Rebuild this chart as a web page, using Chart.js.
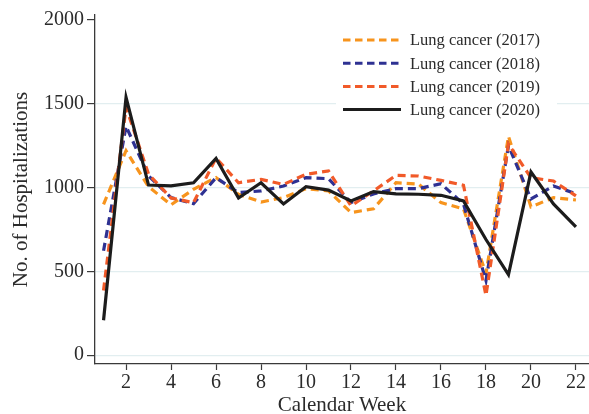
<!DOCTYPE html>
<html>
<head>
<meta charset="utf-8">
<script src="https://cdn.jsdelivr.net/npm/chart.js@4/dist/chart.umd.min.js"></script>
<style>
  html, body { margin: 0; padding: 0; background: #fff; }
  canvas { display: block; }
</style>
</head>
<body>
<canvas id="c" width="589" height="414"></canvas>
<script>
const weeks = [1,2,3,4,5,6,7,8,9,10,11,12,13,14,15,16,17,18,19,20,21,22];
const lung2017 = [900,1220,1005,897,990,1060,960,914,940,994,980,851,873,1029,1021,910,873,487,1306,885,940,926];
const lung2018 = [623,1366,1070,940,904,1059,970,980,1009,1059,1053,910,962,994,994,1023,902,445,1250,932,1009,964];
const lung2019 = [386,1480,1080,938,910,1176,1029,1049,1019,1079,1099,891,980,1073,1069,1043,1014,356,1259,1059,1039,950];
const lung2020 = [208,1538,1015,1010,1029,1174,938,1029,902,1005,985,920,976,962,960,954,920,690,481,1093,902,766];
const seriesLabels = ["Lung cancer (2017)","Lung cancer (2018)","Lung cancer (2019)","Lung cancer (2020)"];
const xTickValues = [2,4,6,8,10,12,14,16,18,20,22];
const yTickValues = [0,500,1000,1500,2000];

const SERIF = '"Liberation Serif", "Times New Roman", serif';
const TXT = '#2b2b2b';
const AXIS = '#3a3a3a';

const colors = ['#F7941D', '#2E3192', '#F15A29', '#1c1c1c'];
const dashes = [[8,5],[8,5],[8,5],[]];
const series = [lung2017, lung2018, lung2019, lung2020];

const datasets = series.map((vals, i) => ({
  label: seriesLabels[i],
  data: weeks.map((w, j) => ({x: w, y: vals[j]})),
  borderColor: colors[i],
  backgroundColor: colors[i],
  borderWidth: 3.2,
  borderDash: dashes[i],
  pointRadius: 0,
  tension: 0,
  fill: false,
  order: 4 - i
}));

const legendInside = {
  id: 'legendInside',
  afterDatasetsDraw(chart) {
    const ctx = chart.ctx;
    ctx.save();
    ctx.fillStyle = '#ffffff';
    ctx.fillRect(336, 24, 221, 98);
    const ds = chart.data.datasets;
    ds.forEach((d, i) => {
      const y = 40 + i * 23.2;
      ctx.beginPath();
      ctx.strokeStyle = d.borderColor;
      ctx.lineWidth = 3;
      ctx.setLineDash(d.borderDash && d.borderDash.length ? [7.5, 4.5] : []);
      ctx.moveTo(343, y);
      ctx.lineTo(401, y);
      ctx.stroke();
      ctx.setLineDash([]);
      ctx.fillStyle = TXT;
      ctx.font = '16.5px ' + SERIF;
      ctx.textBaseline = 'middle';
      ctx.textAlign = 'left';
      ctx.fillText(d.label, 410, y + 1);
    });
    ctx.restore();
  }
};

new Chart(document.getElementById('c'), {
  type: 'line',
  data: { datasets },
  plugins: [legendInside],
  options: {
    responsive: false,
    animation: false,
    devicePixelRatio: 1,
    layout: { padding: { top: 13, right: 0, bottom: 0, left: 0 } },
    plugins: { legend: { display: false }, tooltip: { enabled: false } },
    scales: {
      x: {
        type: 'linear',
        min: 0.62,
        max: 22.58,
        afterBuildTicks: s => { s.ticks = xTickValues.map(v => ({value: v})); },
        afterFit: s => { s.height = 50; },
        grid: { drawOnChartArea: false, drawTicks: true, tickLength: 6, tickColor: AXIS, tickWidth: 1.2 },
        border: { display: true, color: AXIS, width: 1.3 },
        ticks: { color: TXT, font: { family: SERIF, size: 20 }, padding: 1, maxRotation: 0, autoSkip: false,
                 callback: v => String(v) },
        title: { display: true, text: 'Calendar Week', color: TXT, font: { family: SERIF, size: 21, lineHeight: 0.85 }, padding: { top: 0, bottom: 0 } }
      },
      y: {
        type: 'linear',
        min: -53,
        max: 2030,
        afterBuildTicks: s => { s.ticks = yTickValues.map(v => ({value: v})); },
        afterFit: s => { s.width = 95; },
        grid: {
          drawOnChartArea: true,
          color: ctx => (ctx.tick && ctx.tick.value === 2000) ? 'rgba(0,0,0,0)' : '#e2eef0',
          lineWidth: 1.2,
          drawTicks: true, tickLength: 8, tickColor: AXIS, tickWidth: 1.2
        },
        border: { display: true, color: AXIS, width: 1.3 },
        ticks: { color: TXT, font: { family: SERIF, size: 20 }, padding: 3, callback: v => String(v) },
        title: { display: true, text: 'No. of Hospitalizations', color: TXT, font: { family: SERIF, size: 21, lineHeight: 1.2 }, padding: { top: 9, bottom: 0 } }
      }
    }
  }
});
</script>
</body>
</html>
